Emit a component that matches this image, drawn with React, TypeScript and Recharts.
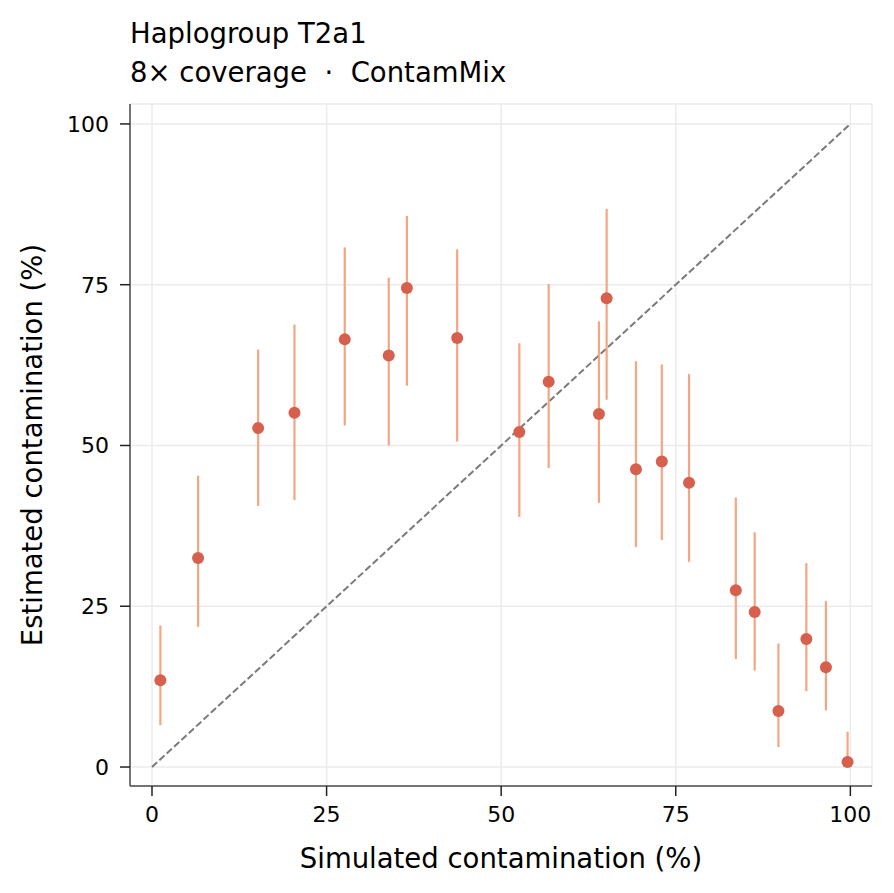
import {
  ComposedChart,
  Scatter,
  ErrorBar,
  XAxis,
  YAxis,
  CartesianGrid,
  ReferenceLine,
} from "recharts";

// Simulated vs estimated contamination (%), with interval bounds
const simulated = [
  1.2, 6.6, 15.2, 20.4, 27.6, 33.9, 36.5, 43.7, 52.6, 56.8, 64.0, 65.1, 69.3,
  73.0, 76.9, 83.6, 86.3, 89.7, 93.7, 96.5, 99.6,
];
const estimated = [
  13.5, 32.5, 52.7, 55.1, 66.5, 64.0, 74.5, 66.7, 52.1, 59.9, 54.9, 72.9, 46.3,
  47.5, 44.2, 27.5, 24.1, 8.7, 19.9, 15.5, 0.8,
];
const lower = [
  6.5, 21.8, 40.6, 41.5, 53.1, 50.0, 59.3, 50.6, 38.9, 46.5, 41.1, 57.1, 34.2,
  35.3, 31.9, 16.8, 15.0, 3.1, 11.8, 8.8, 0.0,
];
const upper = [
  22.0, 45.3, 64.9, 68.8, 80.8, 76.1, 85.7, 80.5, 65.9, 75.1, 69.3, 86.8, 63.1,
  62.6, 61.1, 41.9, 36.5, 19.2, 31.7, 25.8, 5.5,
];
const ticks = [0, 25, 50, 75, 100];

const FONT = "DejaVu Sans";
const POINT = "#d6604d";
const BAR = "#f4a582";

const data = simulated.map((x, i) => ({
  x,
  y: estimated[i],
  err: [estimated[i] - lower[i], upper[i] - estimated[i]],
}));

function XTick({ x, y, payload }: any) {
  return (
    <text x={x} y={y + 26} fontFamily={FONT} fontSize={22} fill="#000" textAnchor="middle">
      {payload.value}
    </text>
  );
}

function YTick({ x, y, payload }: any) {
  return (
    <text x={x} y={y + 8} fontFamily={FONT} fontSize={22} fill="#000" textAnchor="end">
      {payload.value}
    </text>
  );
}

export default function App() {
  return (
    <div
      style={{
        position: "absolute",
        left: 0,
        top: 0,
        width: 894,
        height: 893,
        background: "#fff",
      }}
    >
      <ComposedChart
        width={894}
        height={893}
        data={data}
        margin={{ top: 104, right: 22, bottom: 0, left: 0 }}
      >
        <CartesianGrid stroke="#ebebeb" strokeWidth={1.5} />
        <XAxis
          type="number"
          dataKey="x"
          domain={[-3.15, 103.1]}
          allowDataOverflow
          ticks={ticks}
          height={107}
          tickSize={10}
          tickMargin={0}
          tick={<XTick />}
          axisLine={{ stroke: "#4d4d4d", strokeWidth: 1.5 }}
          tickLine={{ stroke: "#222", strokeWidth: 1.5 }}
        />
        <YAxis
          type="number"
          dataKey="y"
          domain={[-2.95, 103.1]}
          allowDataOverflow
          ticks={ticks}
          width={130}
          tickSize={10}
          tickMargin={11}
          tick={<YTick />}
          axisLine={{ stroke: "#4d4d4d", strokeWidth: 1.5 }}
          tickLine={{ stroke: "#222", strokeWidth: 1.5 }}
        />
        <ReferenceLine
          segment={[
            { x: 0, y: 0 },
            { x: 100, y: 100 },
          ]}
          stroke="#7a7a7a"
          strokeWidth={2}
          strokeDasharray="7 3"
        />
        <Scatter
          data={data}
          dataKey="y"
          isAnimationActive={false}
          shape={(p: any) => (
            <circle cx={p.cx} cy={p.cy} r={6} fill={POINT} />
          )}
        >
          <ErrorBar
            dataKey="err"
            direction="y"
            width={0}
            stroke={BAR}
            strokeWidth={2.2}
          />
        </Scatter>
      </ComposedChart>
      <svg
        width={894}
        height={893}
        style={{ position: "absolute", left: 0, top: 0, pointerEvents: "none" }}
        fontFamily={FONT}
      >
        <text x={130} y={43} fontSize={27.5} fill="#000">
          Haplogroup T2a1
        </text>
        <text x={130} y={82} fontSize={27.5} fill="#000" xmlSpace="preserve">
          {"8× coverage  ·  ContamMix"}
        </text>
        <text x={501} y={868} fontSize={27.5} fill="#000" textAnchor="middle">
          Simulated contamination (%)
        </text>
        <text
          x={0}
          y={0}
          fontSize={27.5}
          fill="#000"
          textAnchor="middle"
          transform="translate(42 445) rotate(-90)"
        >
          Estimated contamination (%)
        </text>
      </svg>
    </div>
  );
}
